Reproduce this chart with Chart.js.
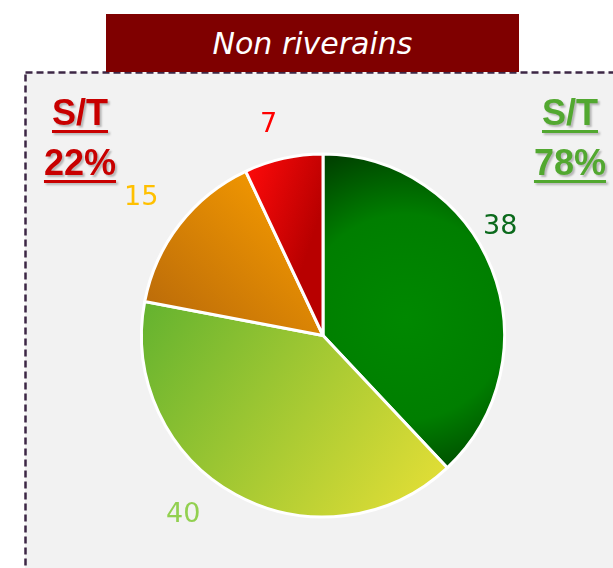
<!DOCTYPE html>
<html lang="fr">
<head>
    <meta charset="UTF-8">
    <title>Non riverains</title>
    <style>
        body { margin: 0; background: #ffffff; }
        #wrap { position: relative; width: 613px; height: 568px; overflow: hidden; }
        #myCanvas { position: absolute; left: 0; top: 0; }
        #banner {
            position: absolute; left: 106px; top: 14px; width: 413px; height: 58px;
            background: #7f0000; color: #ffffff; text-align: center;
            font: italic 30px "DejaVu Sans", sans-serif; line-height: 60px;
        }
        .st {
            position: absolute; top: 88px; width: 100px; text-align: center;
            font: bold 36px "Liberation Sans", Arial, sans-serif; line-height: 50px;
            text-decoration: underline; text-decoration-thickness: 3px;
            text-underline-offset: 5px; text-shadow: 2px 2px 2px rgba(0,0,0,0.25);
        }
        #stLeft { left: 30px; color: #c80000; }
        #stRight { left: 520px; color: #52a830; }
    </style>
</head>
<body>

<div id="wrap">
    <canvas id="myCanvas" width="613" height="568"></canvas>
    <div id="banner">Non riverains</div>
    <div class="st" id="stLeft">S/T<br>22%</div>
    <div class="st" id="stRight">S/T<br>78%</div>
</div>

<script src="https://cdn.jsdelivr.net/npm/chart.js@4/dist/chart.umd.min.js"></script>
<script>

// data
var categories = ['Très satisfait', 'Satisfait', 'Peu satisfait', 'Pas satisfait'];
var values = [38, 40, 15, 7];
var labelColors = ['#0b6a1c', '#92d050', '#ffc000', '#ff0000'];


function sliceFill(context) {
    var chart = context.chart;
    var area = chart.chartArea;
    if (!area) {
        return '#888888';
    }
    var g = chart.ctx;
    var cx = (area.left + area.right) / 2;
    var cy = (area.top + area.bottom) / 2;
    var r = Math.min(area.right - area.left, area.bottom - area.top) / 2;
    var grad;
    switch (context.dataIndex) {
        case 0:
            grad = g.createRadialGradient(cx + 0.45 * r, cy - 0.1 * r, 0, cx + 0.45 * r, cy - 0.1 * r, 1.02 * r);
            grad.addColorStop(0, '#008800');
            grad.addColorStop(0.55, '#007e00');
            grad.addColorStop(1, '#003800');
            break;
        case 1:
            grad = g.createLinearGradient(cx - r, cy - 0.2 * r, cx + 0.6 * r, cy + 0.9 * r);
            grad.addColorStop(0, '#62b22f');
            grad.addColorStop(1, '#e2de36');
            break;
        case 2:
            grad = g.createLinearGradient(cx - 0.2 * r, cy - 0.85 * r, cx - 0.95 * r, cy - 0.05 * r);
            grad.addColorStop(0, '#f59a00');
            grad.addColorStop(1, '#b8690a');
            break;
        default:
            grad = g.createLinearGradient(cx - 0.45 * r, cy - 0.85 * r, cx, cy - 0.7 * r);
            grad.addColorStop(0, '#ff0a0a');
            grad.addColorStop(1, '#b80000');
    }
    return grad;
}

// grey panel with dashed outline behind the pie
var framePlugin = {
    id: 'frame',
    beforeDraw: function(chart) {
        var ctx = chart.ctx;
        ctx.save();
        ctx.fillStyle = '#f2f2f2';
        ctx.fillRect(25, 72, 600, 510);
        ctx.strokeStyle = '#3d2745';
        ctx.lineWidth = 2.5;
        ctx.setLineDash([7, 4]);
        ctx.strokeRect(25.5, 72.5, 600, 510);
        ctx.restore();
    }
};

// value labels outside each slice
var outsideLabels = {
    id: 'outsideLabels',
    afterDatasetsDraw: function(chart, args, opts) {
        var ctx = chart.ctx;
        var arcs = chart.getDatasetMeta(0).data;
        ctx.save();
        ctx.font = '27px "DejaVu Sans", sans-serif';
        ctx.textAlign = 'center';
        ctx.textBaseline = 'middle';
        arcs.forEach(function(arc, i) {
            var mid = (arc.startAngle + arc.endAngle) / 2;
            var dist = arc.outerRadius + opts.distance;
            var nudge = opts.nudge[i];
            var x = arc.x + Math.cos(mid) * dist + nudge[0];
            var y = arc.y + Math.sin(mid) * dist + nudge[1];
            ctx.fillStyle = labelColors[i];
            ctx.fillText(String(values[i]), x, y);
        });
        ctx.restore();
    }
};

var canvas = document.getElementById('myCanvas');
var context = canvas.getContext('2d');

var pieChart = new Chart(context, {
    type: 'pie',
    data: {
        labels: categories,
        datasets: [{
            data: values,
            backgroundColor: sliceFill,
            borderColor: '#ffffff',
            borderWidth: 3
        }]
    },
    options: {
        responsive: false,
        animation: false,
        layout: {
            padding: { left: 140, right: 107, top: 152.5, bottom: 49.5 }
        },
        plugins: {
            legend: { display: false },
            tooltip: { enabled: false },
            outsideLabels: {
                distance: 36,
                nudge: [[-25, -28], [-35, -11], [-10, -4], [-7, 2]]
            }
        }
    },
    plugins: [framePlugin, outsideLabels]
});

</script>
</body>
</html>
